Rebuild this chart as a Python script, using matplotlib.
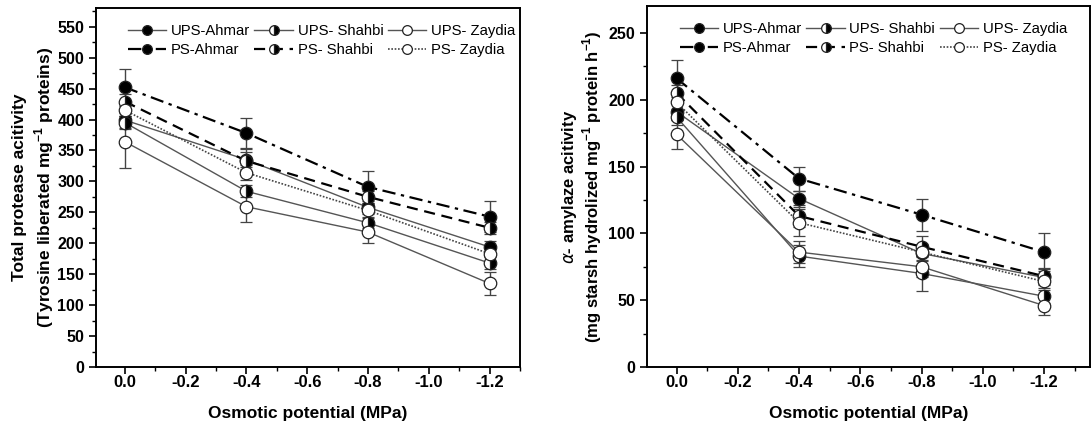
import matplotlib
matplotlib.use("Agg")
import matplotlib.pyplot as plt
from matplotlib.ticker import MultipleLocator
from matplotlib.lines import Line2D

plt.rcParams['font.family'] = ['Liberation Sans', 'DejaVu Sans']

x = [0.0, -0.4, -0.8, -1.2]
series_names = ["UPS-Ahmar", "PS-Ahmar", "UPS- Shahbi", "PS- Shahbi", "UPS- Zaydia", "PS- Zaydia"]

# Total protease activity
prot_ups_ahmar = [399, 335, 258, 194]
prot_ps_ahmar = [452, 378, 291, 243]
prot_ups_shahbi = [395, 284, 233, 168]
prot_ps_shahbi = [429, 333, 275, 225]
prot_ups_zaydia = [364, 259, 218, 135]
prot_ps_zaydia = [415, 314, 253, 183]
prot_err_ups_ahmar = [12, 12, 10, 10]
prot_err_ps_ahmar = [30, 24, 26, 25]
prot_err_ups_shahbi = [10, 10, 8, 10]
prot_err_ps_shahbi = [12, 20, 10, 10]
prot_err_ups_zaydia = [42, 24, 18, 18]
prot_err_ps_zaydia = [10, 12, 10, 12]

# alpha-amylase activity
amy_ups_ahmar = [191, 126, 85, 67]
amy_ps_ahmar = [216, 141, 114, 86]
amy_ups_shahbi = [187, 83, 70, 53]
amy_ps_shahbi = [205, 113, 90, 68]
amy_ups_zaydia = [174, 86, 75, 46]
amy_ps_zaydia = [198, 108, 86, 64]
amy_err_ups_ahmar = [6, 6, 6, 6]
amy_err_ps_ahmar = [14, 9, 12, 14]
amy_err_ups_shahbi = [6, 8, 13, 5]
amy_err_ps_shahbi = [6, 8, 8, 6]
amy_err_ups_zaydia = [11, 8, 8, 7]
amy_err_ps_zaydia = [6, 10, 6, 5]

prot_vals = [prot_ups_ahmar, prot_ps_ahmar, prot_ups_shahbi, prot_ps_shahbi, prot_ups_zaydia, prot_ps_zaydia]
prot_errs = [prot_err_ups_ahmar, prot_err_ps_ahmar, prot_err_ups_shahbi, prot_err_ps_shahbi, prot_err_ups_zaydia, prot_err_ps_zaydia]
amy_vals = [amy_ups_ahmar, amy_ps_ahmar, amy_ups_shahbi, amy_ps_shahbi, amy_ups_zaydia, amy_ps_zaydia]
amy_errs = [amy_err_ups_ahmar, amy_err_ps_ahmar, amy_err_ups_shahbi, amy_err_ps_shahbi, amy_err_ups_zaydia, amy_err_ps_zaydia]

styles = [
    dict(ls='-', color='#555555', lw=1.0, fill='full', mfc='black'),
    dict(ls=(0, (6, 2.5, 1.5, 2.5)), color='black', lw=1.6, fill='full', mfc='black'),
    dict(ls='-', color='#555555', lw=1.0, fill='right', mfc='black'),
    dict(ls=(0, (5, 3)), color='black', lw=1.6, fill='right', mfc='black'),
    dict(ls='-', color='#555555', lw=1.0, fill='full', mfc='white'),
    dict(ls=(0, (1, 1)), color='#444444', lw=1.2, fill='full', mfc='white'),
]

fig = plt.figure(figsize=(10.91, 4.28), dpi=100)
ax1 = fig.add_axes([0.088, 0.1425, 0.3886, 0.8385])
ax2 = fig.add_axes([0.593, 0.1425, 0.406, 0.843])

def draw(ax, vals, errs):
    handles = []
    for name, v, e, st in zip(series_names, vals, errs, styles):
        ax.errorbar(x, v, yerr=e, color=st['color'], ls=st['ls'], lw=st['lw'],
                    marker='o', markersize=9, fillstyle=st['fill'],
                    markerfacecolor=st['mfc'], markerfacecoloralt='white',
                    markeredgecolor='#222222', markeredgewidth=0.9,
                    ecolor='#444444', elinewidth=1.0, capsize=4, capthick=1.0)
        handles.append(Line2D([], [], color=st['color'], ls=st['ls'], lw=st['lw'],
                              marker='o', markersize=7, fillstyle=st['fill'],
                              markerfacecolor=st['mfc'], markerfacecoloralt='white',
                              markeredgecolor='#222222', markeredgewidth=0.9, label=name))
    for s in ax.spines.values():
        s.set_linewidth(1.4)
    ax.xaxis.set_minor_locator(MultipleLocator(0.1))
    ax.yaxis.set_major_locator(MultipleLocator(50))
    ax.yaxis.set_minor_locator(MultipleLocator(25))
    ax.tick_params(which='major', direction='out', length=5, width=1.2, labelsize=11.5)
    ax.tick_params(which='minor', direction='out', length=3, width=1.0)
    ax.set_xticks([0.0, -0.2, -0.4, -0.6, -0.8, -1.0, -1.2])
    ax.set_xticklabels(['0.0', '-0.2', '-0.4', '-0.6', '-0.8', '-1.0', '-1.2'])
    ax.tick_params(axis='x', labelsize=12, pad=1)
    for lab in ax.get_xticklabels() + ax.get_yticklabels():
        lab.set_fontweight('bold')
    ax.set_xlabel('Osmotic potential (MPa)', fontsize=12.5, fontweight='bold', labelpad=11)
    ax.legend(handles=handles, ncol=3, loc='upper left', bbox_to_anchor=(0.05, 0.985), frameon=False,
              fontsize=10.7, handlelength=2.6, handletextpad=0.3, columnspacing=0.3,
              labelspacing=0.35, borderaxespad=0.3)

draw(ax1, prot_vals, prot_errs)
ax1.set_xlim(0.095, -1.3)
ax1.set_ylim(0, 580)
ax1.set_ylabel('Total protease acitivity\n(Tyrosine liberated mg$^{\\mathregular{-1}}$ proteins)',
               fontsize=12.5, fontweight='bold', linespacing=1.3, labelpad=1)

draw(ax2, amy_vals, amy_errs)
ax2.set_xlim(0.097, -1.35)
ax2.set_ylim(0, 270)
ax2.set_ylabel('$\\alpha$- amylaze acitivity\n(mg starsh hydrolized mg$^{\\mathregular{-1}}$ protein h$^{\\mathregular{-1}}$)',
               fontsize=12, fontweight='bold', linespacing=1.1, labelpad=3)

fig.savefig('out.png', dpi=100)
